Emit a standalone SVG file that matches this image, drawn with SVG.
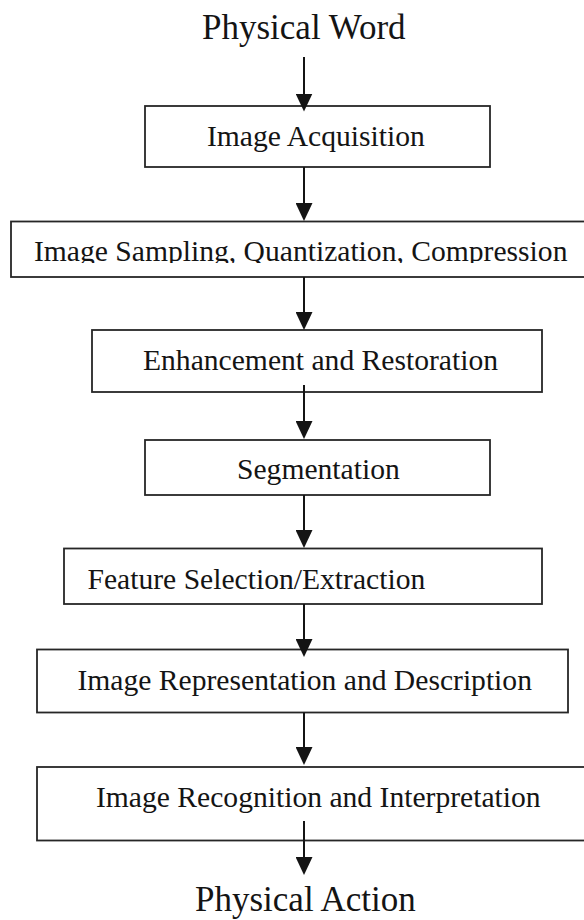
<svg xmlns="http://www.w3.org/2000/svg" width="584" height="920" viewBox="0 0 584 920">
  <defs>
    <style>
      .box { fill: #ffffff; stroke: #262626; stroke-width: 1.8; }
      .lbl { font-family: "Liberation Serif", "Times New Roman", serif; font-size: 29.6px; fill: #141414; }
      .big { font-family: "Liberation Serif", "Times New Roman", serif; font-size: 35px; fill: #141414; }
      .conn { stroke: #141414; stroke-width: 2; fill: none; marker-end: url(#arrow); }
    </style>
    <marker id="arrow" viewBox="0 0 18 17" markerUnits="userSpaceOnUse" markerWidth="18" markerHeight="17" refX="10" refY="8.5" orient="auto">
      <path d="M0,0 L18,8.5 L0,17 z" fill="#141414"/>
    </marker>
    <clipPath id="clip2">
      <rect x="0" y="222" width="584" height="41"/>
    </clipPath>
  </defs>
  <rect x="0" y="0" width="584" height="920" fill="#ffffff"/>

  <g id="physical-word">
    <text class="big" x="202" y="39">Physical Word</text>
  </g>

  <g id="image-acquisition">
    <rect class="box" x="145" y="106" width="345" height="61"/>
    <text class="lbl" x="207" y="146">Image Acquisition</text>
  </g>

  <g id="sampling">
    <rect class="box" x="11" y="221.5" width="580" height="55.5"/>
    <text class="lbl" x="34" y="261" clip-path="url(#clip2)">Image Sampling, Quantization, Compression</text>
  </g>

  <g id="enhancement">
    <rect class="box" x="92" y="330" width="450" height="62"/>
    <text class="lbl" x="143" y="370">Enhancement and Restoration</text>
  </g>

  <g id="segmentation">
    <rect class="box" x="145" y="440" width="345" height="55"/>
    <text class="lbl" x="237" y="479">Segmentation</text>
  </g>

  <g id="feature">
    <rect class="box" x="64" y="548.5" width="478" height="55.5"/>
    <text class="lbl" x="87.5" y="589">Feature Selection/Extraction</text>
  </g>

  <g id="representation">
    <rect class="box" x="37" y="649.5" width="531" height="63"/>
    <text class="lbl" x="77.5" y="689.5">Image Representation and Description</text>
  </g>

  <g id="recognition">
    <rect class="box" x="37" y="767" width="554" height="73.5"/>
    <text class="lbl" x="96" y="807">Image Recognition and Interpretation</text>
  </g>

  <g id="physical-action">
    <text class="big" x="195" y="911">Physical Action</text>
  </g>

  <g id="connectors">
    <line class="conn" x1="304" y1="57" x2="304" y2="103.5"/>
    <line class="conn" x1="304" y1="167" x2="304" y2="213"/>
    <line class="conn" x1="304" y1="277" x2="304" y2="322"/>
    <line class="conn" x1="304" y1="385" x2="304" y2="431"/>
    <line class="conn" x1="304" y1="495" x2="304" y2="540"/>
    <line class="conn" x1="304" y1="604" x2="304" y2="649"/>
    <line class="conn" x1="304" y1="712.5" x2="304" y2="757"/>
    <line class="conn" x1="304" y1="821" x2="304" y2="867"/>
  </g>
</svg>
